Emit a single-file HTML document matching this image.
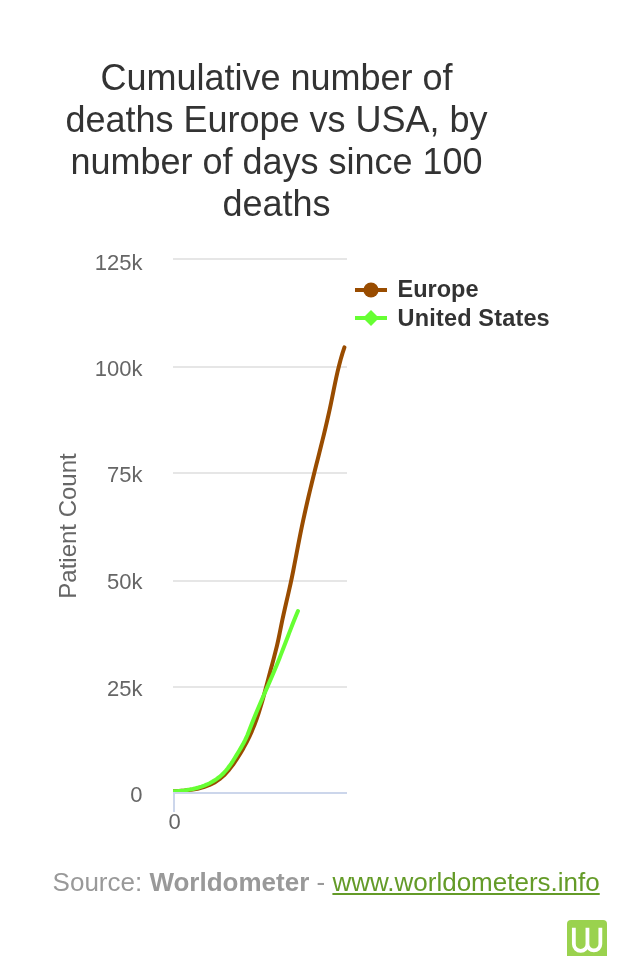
<!DOCTYPE html>
<html><head><meta charset="utf-8">
<style>
html,body{margin:0;-webkit-font-smoothing:antialiased;padding:0;background:#fff;width:637px;height:956px;overflow:hidden;position:relative;font-family:"Liberation Sans",sans-serif;}
.t{position:absolute;white-space:nowrap;line-height:1;}
#title{position:absolute;left:-1px;width:555px;top:3.3px;color:#333;font-size:36px;}
#title div{position:absolute;left:0;width:555px;text-align:center;line-height:1;white-space:nowrap;}
.yl{position:absolute;right:494.5px;color:#666;font-size:22px;line-height:1;text-align:right;}
.src{position:absolute;left:52.6px;top:868.7px;font-size:26px;color:#999;white-space:nowrap;line-height:1;}
.src b{color:#999;}
.src a{color:#649b28;text-decoration:underline;text-decoration-thickness:2px;text-underline-offset:2px;}
.lg{position:absolute;left:397.6px;font-size:23.5px;font-weight:bold;color:#333;white-space:nowrap;line-height:1;}
</style></head><body><div style="position:absolute;left:0;top:0;width:637px;height:956px;will-change:transform">
<div id="title">
<div style="top:57px">Cumulative number of</div>
<div style="top:99px">deaths Europe vs USA, by</div>
<div style="top:141px">number of days since 100</div>
<div style="top:183px">deaths</div>
</div>
<div class="yl" style="top:252.4px">125k</div>
<div class="yl" style="top:357.9px">100k</div>
<div class="yl" style="top:464.1px">75k</div>
<div class="yl" style="top:570.5px">50k</div>
<div class="yl" style="top:678.2px">25k</div>
<div class="yl" style="top:783.8px">0</div>
<div class="t" style="left:67.6px;top:526.1px;font-size:24px;color:#666;transform:translate(-50%,-50%) rotate(-90deg);">Patient Count</div>
<div class="t" style="left:168.5px;top:811.3px;font-size:22px;color:#666;">0</div>
<svg width="637" height="956" style="position:absolute;left:0;top:0">
<g fill="#e6e6e6">
<rect x="173" y="258" width="174" height="2"/>
<rect x="173" y="366" width="174" height="2"/>
<rect x="173" y="472" width="174" height="2"/>
<rect x="173" y="580" width="174" height="2"/>
<rect x="173" y="686" width="174" height="2"/>
</g>
<defs><clipPath id="pc"><rect x="173" y="200" width="200" height="600"/></clipPath></defs>
<g clip-path="url(#pc)">
<path fill="none" stroke="#994c00" stroke-width="4" stroke-linecap="round" stroke-linejoin="round" d="M171.95 791.16 L178.30 790.99 L184.74 790.59 L191.19 789.86 L197.54 788.73 L203.72 787.12 L209.62 784.95 L215.17 782.14 L220.27 778.61 L224.92 774.40 L229.17 769.65 L233.08 764.51 L236.74 759.15 L240.18 753.68 L243.43 748.15 L246.47 742.54 L249.30 736.86 L251.90 731.08 L254.30 725.22 L256.51 719.28 L258.56 713.28 L260.47 707.22 L262.27 701.12 L263.99 694.98 L265.65 688.83 L267.27 682.65 L268.90 676.48 L270.54 670.32 L272.20 664.16 L273.85 658.01 L275.45 651.84 L276.97 645.66 L278.38 639.44 L279.68 633.20 L280.93 626.95 L282.20 620.70 L283.54 614.48 L284.94 608.27 L286.37 602.06 L287.80 595.86 L289.22 589.66 L290.60 583.45 L291.92 577.22 L293.19 570.98 L294.42 564.73 L295.63 558.47 L296.82 552.20 L298.02 545.94 L299.23 539.68 L300.46 533.42 L301.74 527.18 L303.06 520.94 L304.41 514.71 L305.79 508.48 L307.21 502.27 L308.66 496.06 L310.13 489.85 L311.62 483.66 L313.14 477.46 L314.68 471.28 L316.23 465.09 L317.79 458.91 L319.35 452.73 L320.90 446.55 L322.44 440.36 L323.96 434.17 L325.45 427.97 L326.91 421.77 L328.33 415.55 L329.70 409.32 L331.02 403.08 L332.29 396.83 L333.55 390.58 L334.82 384.33 L336.13 378.09 L337.52 371.86 L339.02 365.67 L340.65 359.50 L342.44 353.38 L344.42 347.31"/>
<path fill="none" stroke="#66ff33" stroke-width="4" stroke-linecap="round" stroke-linejoin="round" d="M171.96 791.24 L174.93 791.16 L177.91 791.01 L180.90 790.78 L183.90 790.46 L186.88 790.06 L189.86 789.56 L192.81 788.97 L195.73 788.28 L198.62 787.49 L201.46 786.59 L204.25 785.58 L206.98 784.45 L209.64 783.20 L212.23 781.82 L214.74 780.32 L217.15 778.69 L219.47 776.92 L221.68 775.01 L223.78 772.95 L225.77 770.76 L227.66 768.45 L229.46 766.04 L231.20 763.56 L232.87 761.03 L234.49 758.45 L236.08 755.86 L237.65 753.28 L239.20 750.71 L240.73 748.14 L242.21 745.57 L243.63 742.99 L244.99 740.38 L246.26 737.73 L247.44 735.03 L248.53 732.29 L249.58 729.52 L250.64 726.74 L251.71 723.98 L252.79 721.21 L253.90 718.46 L255.02 715.71 L256.15 712.96 L257.30 710.22 L258.46 707.48 L259.63 704.74 L260.80 702.00 L261.99 699.27 L263.17 696.54 L264.36 693.81 L265.56 691.08 L266.75 688.35 L267.94 685.62 L269.13 682.89 L270.32 680.15 L271.50 677.42 L272.68 674.68 L273.84 671.93 L275.00 669.19 L276.14 666.44 L277.28 663.68 L278.39 660.92 L279.50 658.16 L280.59 655.39 L281.67 652.62 L282.75 649.84 L283.82 647.07 L284.88 644.29 L285.94 641.51 L287.01 638.72 L288.07 635.94 L289.13 633.16 L290.20 630.38 L291.28 627.61 L292.36 624.83 L293.46 622.06 L294.56 619.30 L295.68 616.53 L296.82 613.78 L297.97 611.02"/>
</g>
<rect x="173" y="792" width="174" height="2" fill="#ccd6eb"/>
<rect x="173" y="792" width="2" height="20" fill="#ccd6eb"/>
<rect x="355" y="288" width="32" height="4" fill="#994c00"/>
<circle cx="371" cy="290" r="7.6" fill="#994c00"/>
<rect x="355" y="316" width="32" height="4" fill="#66ff33"/>
<path d="M371 310 L379 318 L371 326 L363 318 Z" fill="#66ff33"/>
<rect x="567" y="920" width="40" height="44" rx="4" fill="#9ad24e"/>
<path d="M573.85 927.7 V944 A6.8 6.8 0 0 0 587.45 944 V927.7 M587.45 944 A6.45 6.45 0 0 0 600.35 944 V927.7" fill="none" stroke="#fff" stroke-width="3.8"/>
</svg>
<div class="lg" style="top:278.4px">Europe</div>
<div class="lg" style="top:306.8px;letter-spacing:0.16px">United States</div>
<div class="src">Source: <b>Worldometer</b> - <a>www.worldometers.info</a></div>
</div></body></html>
